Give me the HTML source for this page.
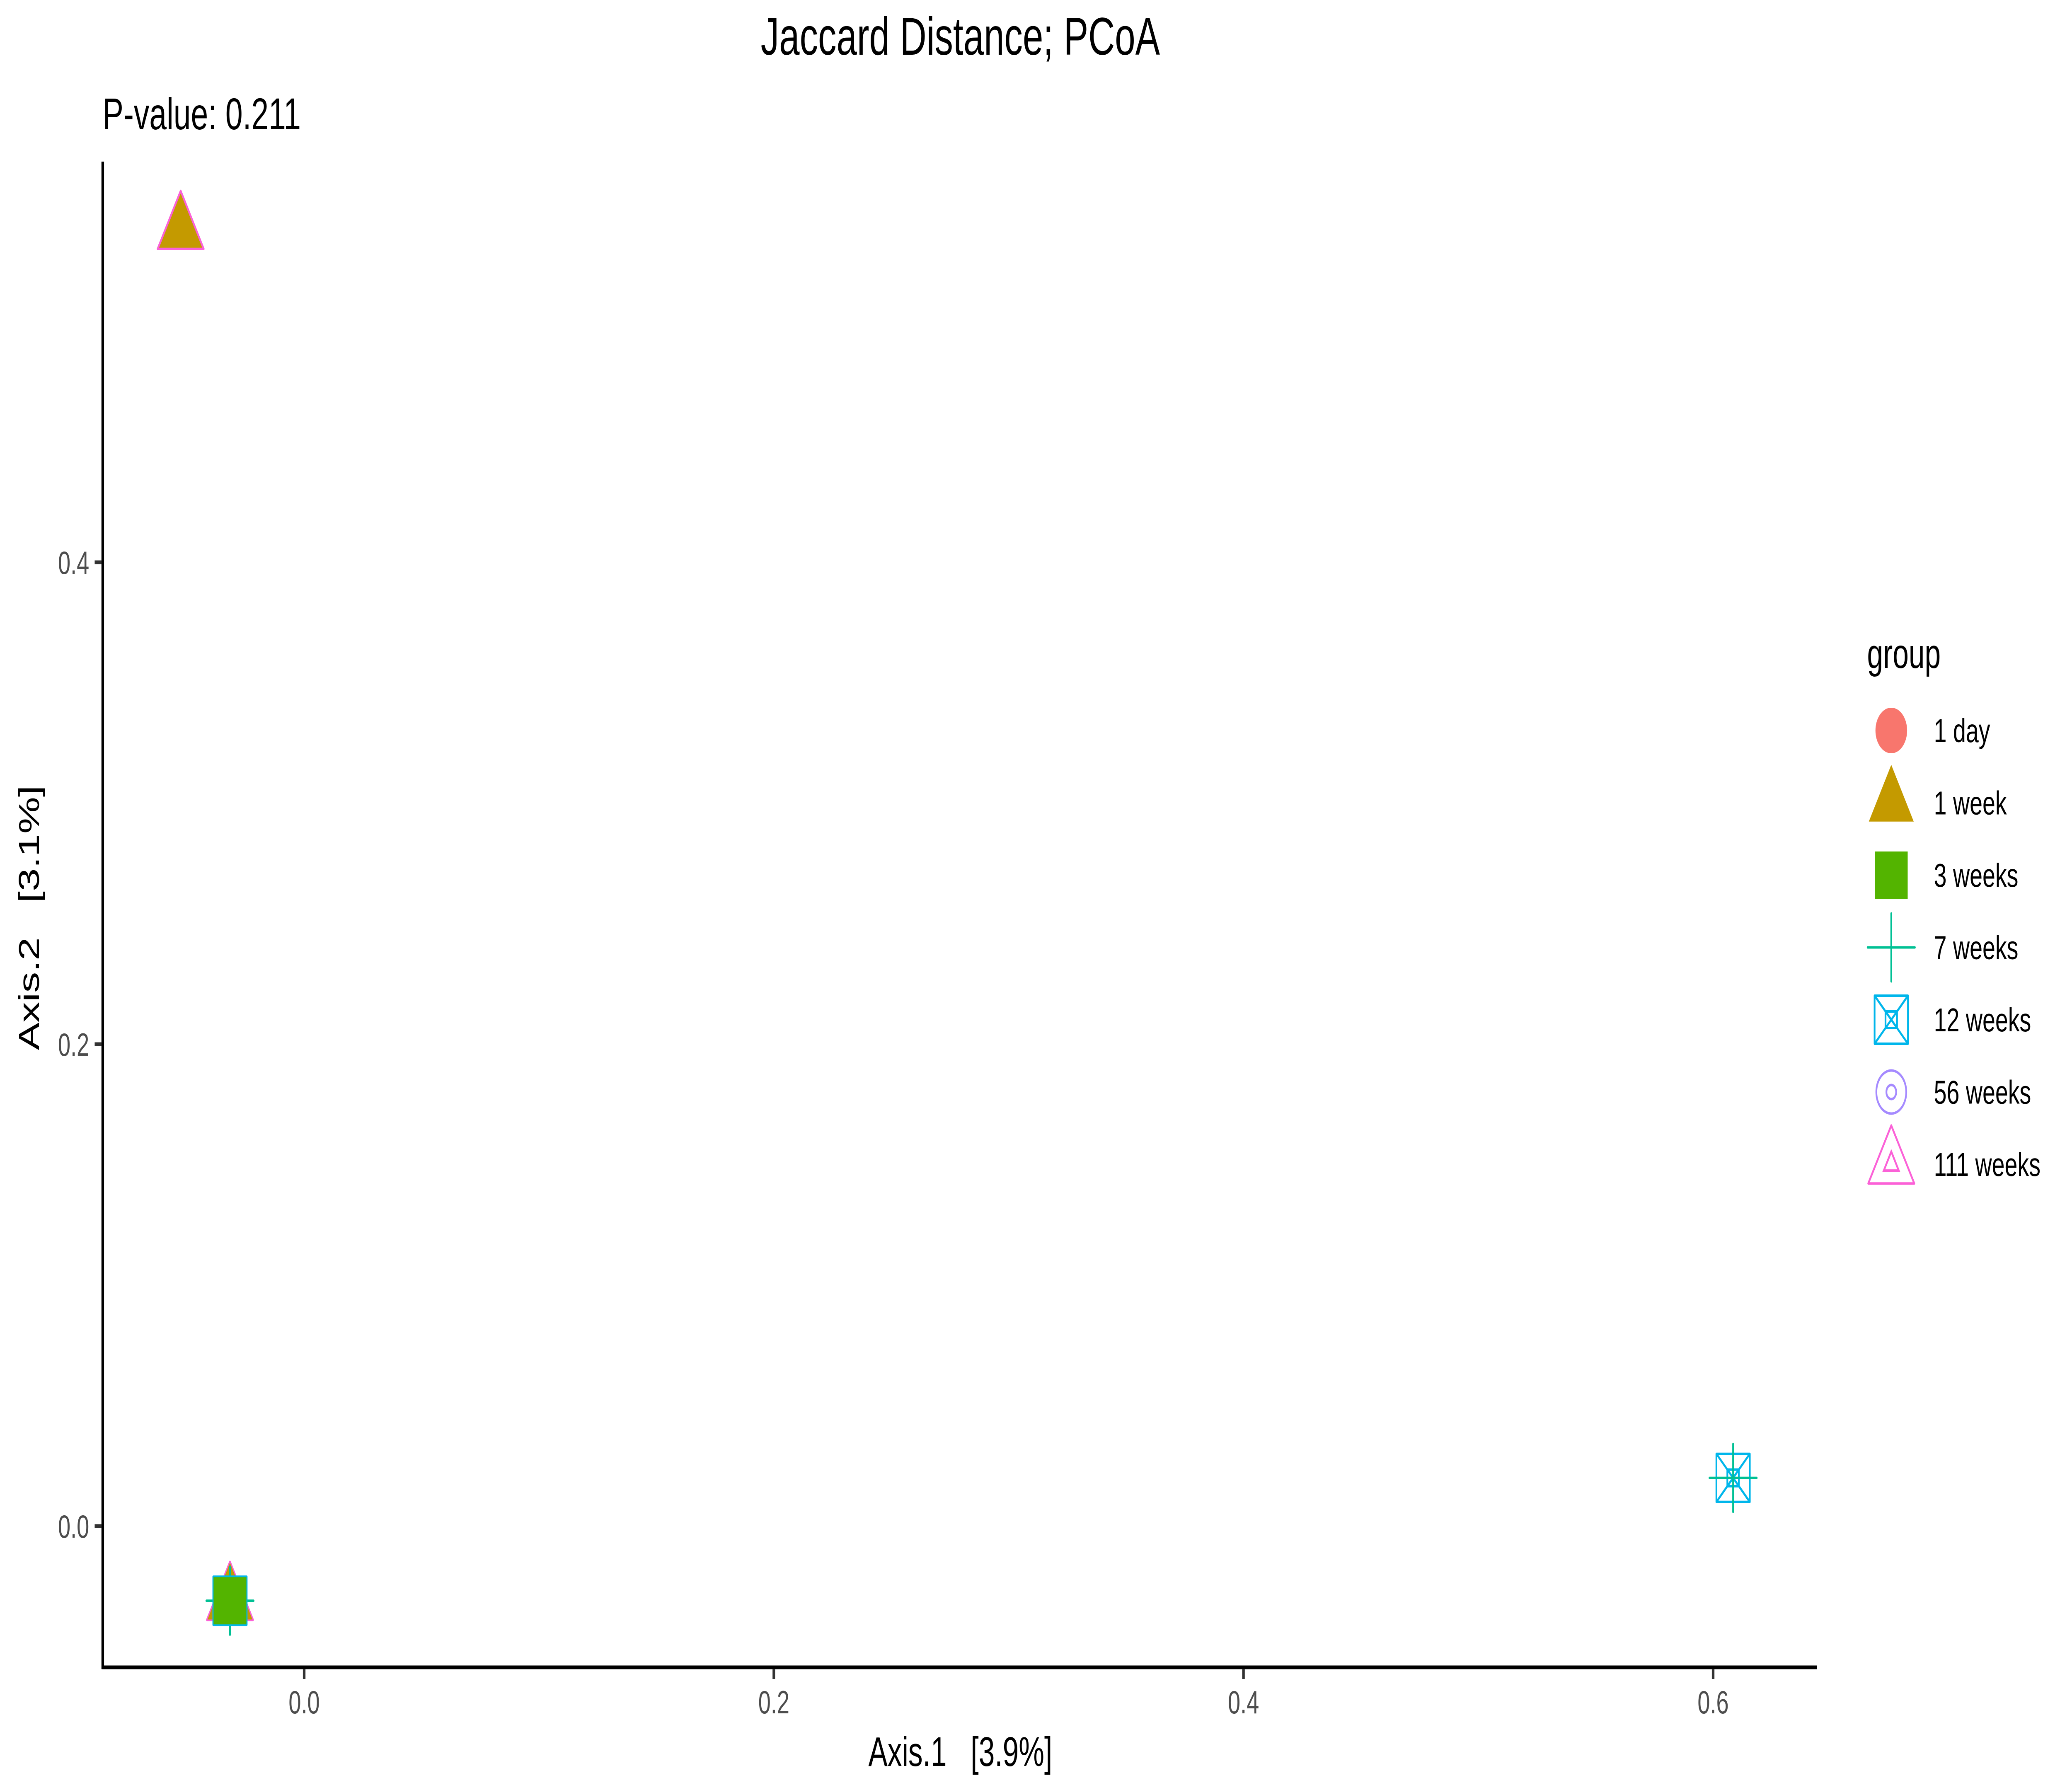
<!DOCTYPE html>
<html><head><meta charset="utf-8"><style>
html,body{margin:0;padding:0;background:#fff;width:100%;height:100%;overflow:hidden;}
svg{display:block;position:fixed;left:0;top:0;width:100vw;height:100vh;font-family:"Liberation Sans",Arial,sans-serif;}
text{white-space:pre;}
</style></head><body>
<svg id="chart" viewBox="0 0 7200 4320" preserveAspectRatio="none">
<rect width="7200" height="4320" fill="#fff"/>
<text x="3337" y="132" font-size="128" text-anchor="middle" fill="#000">Jaccard Distance; PCoA</text>
<text x="357" y="312" font-size="108" fill="#000">P-value: 0.211</text>
<g id="marks"></g>
<line x1="357" y1="390" x2="357" y2="4028" stroke="#000" stroke-width="9"/>
<line x1="353" y1="4024" x2="6313" y2="4024" stroke="#000" stroke-width="9"/>
<g id="xticks"></g>
<g id="yticks"></g>
<text x="3337" y="4262" font-size="100" text-anchor="middle" fill="#000">Axis.1&#160;&#160;&#160;[3.9%]</text>
<text x="0" y="0" font-size="100" text-anchor="middle" fill="#000" transform="translate(135,2215) rotate(-90)">Axis.2&#160;&#160;&#160;[3.1%]</text>
<text x="6488" y="1612" font-size="100" fill="#000">group</text>
<g id="legend"></g>
</svg>
<script>
const groups = ["1 day","1 week","3 weeks","7 weeks","12 weeks","56 weeks","111 weeks"];
const colors = ["#F8766D","#C49A00","#53B400","#00C094","#00B6EB","#A58AFF","#FB61D7"];
const pointGroup = ["1 day","56 weeks","111 weeks","1 week","7 weeks","12 weeks","3 weeks","1 week","111 weeks","12 weeks","7 weeks"];
const pointX = [-0.0316,-0.0316,-0.0316,-0.0316,-0.0316,-0.0316,-0.0316,-0.0526,-0.0526,0.6085,0.6085];
const pointY = [-0.031,-0.031,-0.031,-0.031,-0.031,-0.031,-0.031,0.538,0.538,0.020,0.020];
const xTicks = [0.0,0.2,0.4,0.6];
const xTickLabels = ["0.0","0.2","0.4","0.6"];
const yTicks = [0.0,0.2,0.4];
const yTickLabels = ["0.0","0.2","0.4"];

const NS="http://www.w3.org/2000/svg";
function xs(v){return 1057+v*8160;}
function ys(v){return 3683-v*5815;}
function mk(tag,attrs,parent){const e=document.createElementNS(NS,tag);for(const k in attrs)e.setAttribute(k,attrs[k]);parent.appendChild(e);return e;}

function marker(parent,g,cx,cy,scale,inner){
  const c=colors[groups.indexOf(g)];
  const gg=mk('g',{},parent);
  const sw=6;
  if(g==="1 day"){mk('circle',{cx:cx,cy:cy,r:55*scale,fill:c},gg);}
  else if(g==="1 week"){const w=78*scale,h=137*scale;mk('polygon',{points:`${cx-w},${cy+h*0.33} ${cx+w},${cy+h*0.33} ${cx},${cy-h*0.67}`,fill:c},gg);}
  else if(g==="3 weeks"){const s=57*scale;mk('rect',{x:cx-s,y:cy-s,width:2*s,height:2*s,fill:c},gg);}
  else if(g==="7 weeks"){const a=82*scale;mk('path',{d:`M${cx-a},${cy}H${cx+a}M${cx},${cy-a}V${cy+a}`,stroke:c,'stroke-width':sw,'stroke-linecap':'round',fill:'none'},gg);}
  else if(g==="12 weeks"){const s=58*scale,i=20*scale;mk('path',{d:`M${cx-s},${cy-s}H${cx+s}V${cy+s}H${cx-s}Z M${cx-s},${cy-s}L${cx+s},${cy+s}M${cx+s},${cy-s}L${cx-s},${cy+s} M${cx-i},${cy-i}H${cx+i}V${cy+i}H${cx-i}Z`,stroke:c,'stroke-width':sw,fill:'none','stroke-linejoin':'round'},gg);}
  else if(g==="56 weeks"){mk('circle',{cx:cx,cy:cy,r:52*scale,stroke:c,'stroke-width':sw,fill:'none'},gg);mk('circle',{cx:cx,cy:cy,r:17*scale,stroke:c,'stroke-width':sw,fill:'none'},gg);}
  else if(g==="111 weeks"){const w=80*scale,h=140*scale;mk('polygon',{points:`${cx-w},${cy+h*0.33} ${cx+w},${cy+h*0.33} ${cx},${cy-h*0.67}`,stroke:c,'stroke-width':sw,fill:'none','stroke-linejoin':'round'},gg);
    if(inner){const w2=26*scale,h2=46*scale;mk('polygon',{points:`${cx-w2},${cy+h2*0.33} ${cx+w2},${cy+h2*0.33} ${cx},${cy-h2*0.67}`,stroke:c,'stroke-width':sw,fill:'none'},gg);}}
  return gg;
}

const marks=document.getElementById('marks');
for(let i=0;i<pointGroup.length;i++){
  const el=marker(marks,pointGroup[i],xs(pointX[i]),ys(pointY[i]),1,false);
  
  
}

const xt=document.getElementById('xticks');
xTicks.forEach((v,i)=>{
  const l=mk('line',{x1:xs(v),x2:xs(v),y1:4028,y2:4052,stroke:'#333','stroke-width':9},xt);
  
  
  const t=mk('text',{x:xs(v),y:4135,'font-size':78,'text-anchor':'middle',fill:'#4d4d4d'},xt);
  t.textContent=xTickLabels[i];
  
  
});
const yt=document.getElementById('yticks');
yTicks.forEach((v,i)=>{
  const l=mk('line',{x1:329,x2:353,y1:ys(v),y2:ys(v),stroke:'#333','stroke-width':9},yt);
  
  
  const t=mk('text',{x:310,y:ys(v)+28,'font-size':78,'text-anchor':'end',fill:'#4d4d4d'},yt);
  t.textContent=yTickLabels[i];
  
  
});

const lg=document.getElementById('legend');
groups.forEach((g,i)=>{
  const y=1763+i*174.5;
  const e=mk('g',{},lg);
  
  
  marker(e,g,6572,y,1,true);
  const t=mk('text',{x:6720,y:y+28,'font-size':80,fill:'#000'},e);
  t.textContent=g;
});
</script>
</body></html>
